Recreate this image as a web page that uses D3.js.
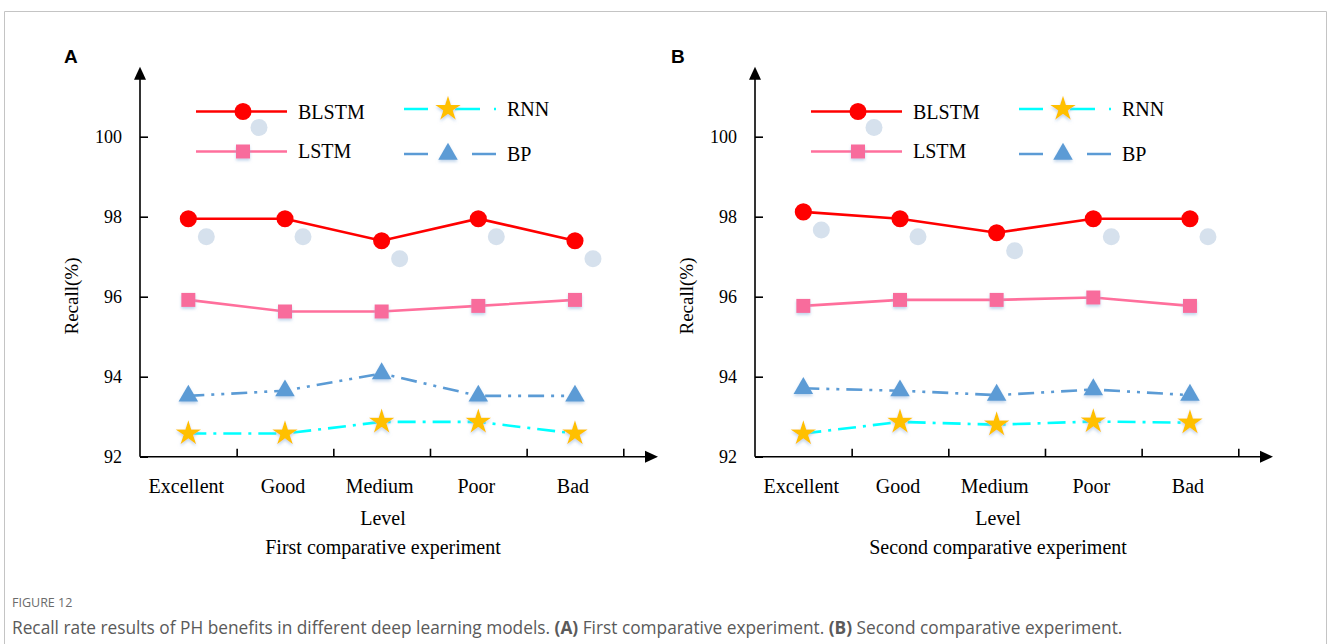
<!DOCTYPE html>
<html>
<head>
<meta charset="utf-8">
<script src="https://cdn.jsdelivr.net/npm/d3@7"></script>
<style>
  html, body { margin: 0; padding: 0; background: #fff; }
  svg { display: block; }
</style>
</head>
<body>
<svg id="chart" width="1328" height="644"></svg>
<script>
// ---- data ----
const categories = ["Excellent", "Good", "Medium", "Poor", "Bad"];
const seriesNames = ["BLSTM", "LSTM", "RNN", "BP"];
const yTicks = [92, 94, 96, 98, 100];

const blstmA = [97.95, 97.95, 97.40, 97.95, 97.40];
const lstmA  = [95.92, 95.63, 95.63, 95.77, 95.92];
const rnnA   = [92.58, 92.58, 92.87, 92.87, 92.58];
const bpA    = [93.52, 93.65, 94.08, 93.52, 93.52];

const blstmB = [98.12, 97.95, 97.60, 97.95, 97.95];
const lstmB  = [95.77, 95.92, 95.92, 95.98, 95.77];
const rnnB   = [92.58, 92.87, 92.80, 92.88, 92.85];
const bpB    = [93.71, 93.65, 93.54, 93.68, 93.54];

const panelLetters = ["A", "B"];
const subtitles = ["First comparative experiment", "Second comparative experiment"];
const xTitle = "Level";
const yTitle = "Recall(%)";

// ---- styles ----
const serif = "'Liberation Serif','Times New Roman',serif";
const styles = {
  BLSTM: { color: "#ff0000", dash: null, symbol: d3.symbolCircle, size: 230, fill: "#ff0000" },
  LSTM:  { color: "#ff6f9c", dash: null, symbol: d3.symbolSquare, size: 196, fill: "#f86c9c" },
  RNN:   { color: "#00ffff", dash: "18,7,3,7", symbol: d3.symbolStar, size: 200, fill: "#ffc000" },
  BP:    { color: "#5b9bd5", dash: "16,7,3,7,3,7", symbol: d3.symbolTriangle, size: 165, fill: "#5b9bd5" }
};
const legendDash = { BLSTM: null, LSTM: null, RNN: "24,27,25,14,2,20", BP: "24,44,24" };
const shadowColor = "#d6e1ed";

const svg = d3.select("#chart");
const defs = svg.append("defs");
const f = defs.append("filter").attr("id", "glow").attr("x", "-50%").attr("y", "-50%").attr("width", "200%").attr("height", "200%");
f.append("feDropShadow").attr("dx", 0).attr("dy", 2).attr("stdDeviation", 1.6)
  .attr("flood-color", "#8fb3dc").attr("flood-opacity", 0.55);

// frame
svg.append("path").attr("d", "M4.5,644 V11.5 H1326.5 V644")
  .attr("fill", "none").attr("stroke", "#c4c4c4").attr("stroke-width", 1);

const y = d3.scaleLinear().domain([92, 100]).range([456.7, 136.7]);

function drawPanel(x0, letter, letterX, subtitle, data) {
  const g = svg.append("g");
  const x = d3.scaleBand().domain(categories).range([x0, x0 + 483.3]);
  const cx = c => x(c) + x.bandwidth() / 2;
  const yTop = y(101.75);
  const xEnd = x0 + 518;

  // panel letter
  g.append("text").attr("x", letterX).attr("y", 63)
    .attr("font-family", "Arial, 'Liberation Sans', sans-serif").attr("font-weight", "bold")
    .attr("font-size", 19).text(letter);

  // y axis
  const yAxis = d3.axisRight(y).tickValues(yTicks).tickSize(8).tickFormat("");
  const ya = g.append("g").attr("transform", `translate(${x0},0)`).call(yAxis);
  ya.select(".domain").remove();
  ya.selectAll(".tick line").attr("stroke", "#000").attr("stroke-width", 1.6);
  g.append("line").attr("x1", x0).attr("x2", x0).attr("y1", y(92)).attr("y2", yTop + 10)
    .attr("stroke", "#000").attr("stroke-width", 1.6);
  g.append("path").attr("d", `M${x0},${yTop} L${x0 - 6},${yTop + 13} L${x0 + 6},${yTop + 13} Z`).attr("fill", "#000");
  g.selectAll(".ylab").data(yTicks).enter().append("text")
    .attr("x", x0 - 18).attr("y", d => y(d) + 6)
    .attr("text-anchor", "end").attr("font-family", serif).attr("font-size", 18)
    .text(d => d);

  // x axis
  const xAxisScale = d3.scaleLinear().domain([0, 5]).range([x0, x0 + 483.3]);
  const xa = g.append("g").attr("transform", `translate(0,${y(92)})`)
    .call(d3.axisTop(xAxisScale).tickValues([1, 2, 3, 4, 5]).tickSize(8).tickFormat(""));
  xa.select(".domain").remove();
  xa.selectAll(".tick line").attr("stroke", "#000").attr("stroke-width", 1.6);
  g.append("line").attr("x1", x0).attr("x2", xEnd - 10).attr("y1", y(92)).attr("y2", y(92))
    .attr("stroke", "#000").attr("stroke-width", 1.6);
  g.append("path").attr("d", `M${xEnd},${y(92)} L${xEnd - 13},${y(92) - 6} L${xEnd - 13},${y(92) + 6} Z`).attr("fill", "#000");
  g.selectAll(".xlab").data(categories).enter().append("text")
    .attr("x", d => cx(d) - 2).attr("y", 493)
    .attr("text-anchor", "middle").attr("font-family", serif).attr("font-size", 20)
    .text(d => d);

  const mid = x0 + 243;
  g.append("text").attr("x", mid).attr("y", 525).attr("text-anchor", "middle")
    .attr("font-family", serif).attr("font-size", 20).text(xTitle);
  g.append("text").attr("x", mid).attr("y", 554).attr("text-anchor", "middle")
    .attr("font-family", serif).attr("font-size", 20).text(subtitle);
  g.append("text").attr("transform", `translate(${x0 - 62},296) rotate(-90)`)
    .attr("text-anchor", "middle").attr("font-family", serif).attr("font-size", 19).text(yTitle);

  // shadows of circle markers
  g.selectAll(".shadow").data(data.BLSTM).enter().append("circle")
    .attr("cx", (d, i) => cx(categories[i]) + 18).attr("cy", d => y(d) + 18)
    .attr("r", 8.5).attr("fill", shadowColor);

  // lines
  const drawOrder = ["RNN", "BP", "LSTM", "BLSTM"];
  drawOrder.forEach(name => {
    const st = styles[name];
    const line = d3.line().x((d, i) => cx(categories[i])).y(d => y(d));
    g.append("path").datum(data[name]).attr("d", line)
      .attr("fill", "none").attr("stroke", st.color).attr("stroke-width", 2.6)
      .attr("stroke-dasharray", st.dash);
  });
  drawOrder.forEach(name => {
    const st = styles[name];
    const sym = d3.symbol().type(st.symbol).size(st.size);
    g.selectAll(".m" + name).data(data[name]).enter().append("path")
      .attr("d", sym)
      .attr("transform", (d, i) => `translate(${cx(categories[i])},${y(d)})`)
      .attr("fill", st.fill)
      .attr("filter", name === "BLSTM" ? null : "url(#glow)");
  });

  // legend
  const legendItems = [
    { name: "BLSTM", lx: x0 + 56, ly: 111.5, len: 91, mx: x0 + 103, ty: 119 },
    { name: "LSTM",  lx: x0 + 56, ly: 151.5, len: 91, mx: x0 + 103, ty: 158 },
    { name: "RNN",   lx: x0 + 264, ly: 109, len: 92, mx: x0 + 308, ty: 116 },
    { name: "BP",    lx: x0 + 264, ly: 154, len: 92, mx: x0 + 308, ty: 161 }
  ];
  legendItems.forEach(it => {
    const st = styles[it.name];
    if (it.name === "BLSTM") {
      g.append("circle").attr("cx", it.mx + 16).attr("cy", it.ly + 16).attr("r", 8.5).attr("fill", shadowColor);
    }
    g.append("line").attr("x1", it.lx).attr("x2", it.lx + it.len).attr("y1", it.ly).attr("y2", it.ly)
      .attr("stroke", st.color).attr("stroke-width", 2.6)
      .attr("stroke-dasharray", legendDash[it.name]);
    g.append("path").attr("d", d3.symbol().type(st.symbol).size(st.size))
      .attr("transform", `translate(${it.mx},${it.ly})`).attr("fill", st.fill)
      .attr("filter", it.name === "BLSTM" ? null : "url(#glow)");
    g.append("text").attr("x", it.lx + (it.name === "BLSTM" || it.name === "LSTM" ? 102 : 103)).attr("y", it.ty)
      .attr("font-family", serif).attr("font-size", 20).text(it.name);
  });
}

drawPanel(140, panelLetters[0], 64, subtitles[0], { BLSTM: blstmA, LSTM: lstmA, RNN: rnnA, BP: bpA });
drawPanel(755, panelLetters[1], 671, subtitles[1], { BLSTM: blstmB, LSTM: lstmB, RNN: rnnB, BP: bpB });

// caption
const sans = "'Open Sans','Noto Sans',sans-serif";
svg.append("text").attr("x", 12).attr("y", 607).attr("font-family", sans).attr("font-size", 12.5)
  .attr("fill", "#6b6b6b").text("FIGURE 12");
const cap = svg.append("text").attr("x", 12).attr("y", 634).attr("font-family", sans).attr("font-size", 17.3)
  .attr("fill", "#5a5a5a");
cap.append("tspan").text("Recall rate results of PH benefits in different deep learning models. ");
cap.append("tspan").attr("font-weight", "bold").text("(A)");
cap.append("tspan").text(" First comparative experiment. ");
cap.append("tspan").attr("font-weight", "bold").text("(B)");
cap.append("tspan").text(" Second comparative experiment.");
</script>
</body>
</html>
